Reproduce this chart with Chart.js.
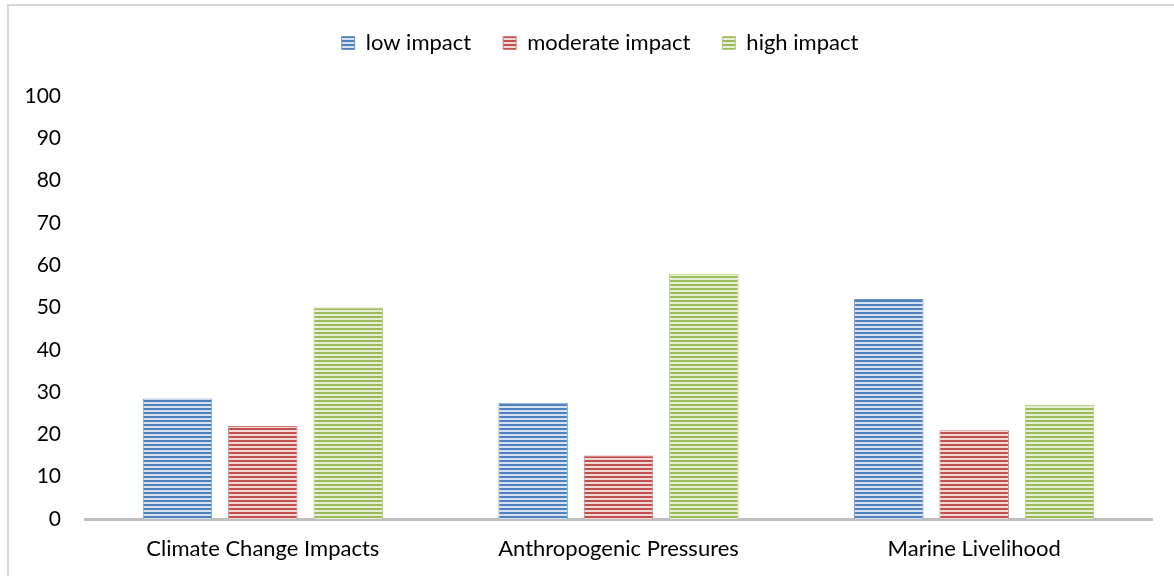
<!DOCTYPE html>
<html>
<head>
<meta charset="utf-8">
<script src="https://cdn.jsdelivr.net/npm/chart.js@4/dist/chart.umd.min.js"></script>
<style>
  body { margin: 0; background: #fff; }
  #wrap { position: relative; width: 1174px; height: 576px; overflow: hidden; }
  #frame { position: absolute; left: 7px; top: 4px; width: 1200px; height: 600px;
           border-left: 2px solid #D9D9D9; border-top: 2px solid #D9D9D9; pointer-events: none; }
</style>
</head>
<body>
<div id="wrap">
  <canvas id="myChart" width="1174" height="576"></canvas>
  <div id="frame"></div>
</div>
<script>
const categories = ['Climate Change Impacts', 'Anthropogenic Pressures', 'Marine Livelihood'];
const lowImpact = [28.5, 27.5, 52];
const moderateImpact = [22, 15, 21];
const highImpact = [50, 58, 27];
const yTicks = [0, 10, 20, 30, 40, 50, 60, 70, 80, 90, 100];

// horizontal stripes like the office "narrow horizontal" fill
const stripes = (base, light) => {
    const c = document.createElement('canvas');
    c.width = 4; c.height = 4;
    const g = c.getContext('2d');
    g.fillStyle = base; g.fillRect(0, 0, 4, 2);
    g.fillStyle = light; g.fillRect(0, 2, 4, 2);
    return g.createPattern(c, 'repeat');
};

// extra room under the legend, and centre it a bit further right
const legendGap = {
    id: 'legendGap',
    beforeInit(chart) {
        const fit = chart.legend.fit;
        chart.legend.fit = function () {
            fit.bind(chart.legend)();
            this.height += 32;
        };
    },
    afterLayout(chart) {
        chart.legend.left = 48;
    }
};

const fontFamily = 'Lato, "Open Sans", sans-serif';
const ctx = document.getElementById('myChart');
new Chart(ctx, {
    type: 'bar',
    data: {
        labels: categories,
        datasets: [
            {
                label: 'low impact',
                data: lowImpact,
                backgroundColor: stripes('#4F81BD', '#D6E2F1'),
                borderColor: '#6E97C8',
                borderWidth: 1,
            },
            {
                label: 'moderate impact',
                data: moderateImpact,
                backgroundColor: stripes('#C0504D', '#F2D8D7'),
                borderColor: '#CF7A77',
                borderWidth: 1,
            },
            {
                label: 'high impact',
                data: highImpact,
                backgroundColor: stripes('#9BBB59', '#E6EFD5'),
                borderColor: '#B2CB7E',
                borderWidth: 1,
            },
        ]
    },
    options: {
        responsive: false,
        animation: false,
        categoryPercentage: 0.72,
        barPercentage: 0.814,
        layout: {
            padding: { left: 0, right: 22, top: 0, bottom: 0 }
        },
        plugins: {
            legend: {
                position: 'top',
                align: 'center',
                labels: {
                    color: '#000',
                    boxWidth: 13,
                    boxHeight: 13,
                    padding: 32,
                    font: { family: fontFamily, size: 22 }
                }
            },
            tooltip: { enabled: false }
        },
        scales: {
            x: {
                grid: { display: false, drawTicks: false },
                border: { color: '#BFBFBF', width: 3 },
                ticks: {
                    color: '#000',
                    padding: 17,
                    font: { family: fontFamily, size: 22 }
                },
                afterFit: (scale) => { scale.height = 57; }
            },
            y: {
                min: 0,
                max: 100,
                afterBuildTicks: (scale) => { scale.ticks = yTicks.map(v => ({ value: v })); },
                grid: { display: false, drawTicks: false },
                border: { display: false },
                ticks: {
                    color: '#000',
                    padding: 24,
                    font: { family: fontFamily, size: 21 }
                },
                afterFit: (scale) => { scale.width = 85; }
            }
        }
    },
    plugins: [legendGap]
});
</script>
</body>
</html>
